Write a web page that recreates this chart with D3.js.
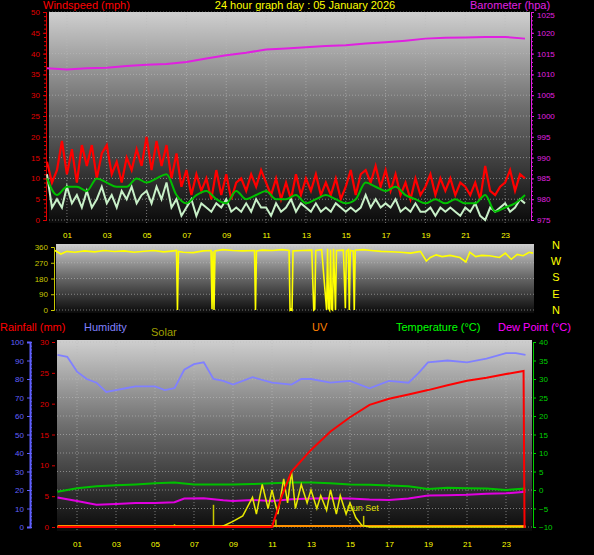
<!DOCTYPE html>
<html>
<head>
<meta charset="utf-8">
<script src="https://cdn.jsdelivr.net/npm/d3@7"></script>
<style>
body { margin: 0; background: #000; }
text { font-family: "Liberation Sans", Arial, sans-serif; }
</style>
</head>
<body>
<div id="chart"></div>
<script>
// wind (mph), 15-minute steps from 00:00 to 24:00
var gust = [14,9,12,19, 11,17,9,18, 13,18,10,16, 18,11,14,9, 15,12,17,13, 20,12,19,13, 18,10,16,8,
  12,6,11,7, 10,5,12,6, 11,5,9,10, 7,11,8,12, 9,6,10,5, 9,5,11,6, 10,7,11,6, 9,6,10,5,
  8,12,6,11, 12,9,13,8, 12,7,11,6, 9,5,10,6, 8,11,6,10, 7,10,6,9, 8,6,9,5, 13,7,6,8, 9,12,7,11, 10];
var speed = [11,3,5,3, 8,4,6,3, 7,3,5,8, 4,6,3,7, 5,8,4,6, 7,4,8,5, 9,3,5,1, 3,5,1,4, 3,2,4,3,
  5,2,3,2, 4,2,5,3, 3,1,4,2, 3,5,2,4, 3,2,4,2, 3,2,4,3, 2,3,2,3, 6,3,5,3, 4,3,5,2, 3,2,4,2,
  2,3,1,3, 2,3,2,1, 3,2,4,1, 0,3,2,3, 4,2,3,5, 4];
// average wind, 30-minute steps
var avgWind = [10,6, 8,8, 7,10, 9,8, 8,10, 9,10, 11,6, 4,6, 7,5, 4,7, 5,6, 7,5, 5,6, 4,5, 6,5, 4,5,
  9,8, 7,8, 6,5, 4,5, 4,5, 4,4, 6,2, 3,4, 6];
// barometer (hPa), hourly
var baro = [1011.5,1011.2,1011.5,1011.6,1012,1012.3,1012.5,1013,1013.8,1014.6,1015.2,1016,1016.2,
  1016.5,1016.8,1017,1017.4,1017.7,1018.1,1018.6,1018.8,1018.9,1019,1019,1018.6];
// wind direction [hour, degrees]
var windDir = [[0,340],[0.3,320],[0.6,335],[1,330],[1.5,338],[2,332],[2.5,340],[3,334],[3.5,338],[4,330],
  [4.5,336],[5,340],[5.5,332],[6,338],[6.15,340],[6.2,0],[6.25,335],[6.5,330],[7,328],[7.5,338],[7.9,340],
  [7.95,5],[8.0,335],[8.05,0],[8.1,338],[8.5,345],[9,340],[9.5,338],[10.1,340],[10.15,0],[10.2,338],
  [10.5,342],[11,340],[11.5,345],[11.85,340],[11.9,0],[11.95,5],[12.0,0],[12.05,338],[12.5,340],[13.0,342],
  [13.1,0],[13.15,5],[13.2,340],[13.5,345],[13.75,0],[13.8,350],[13.85,10],[13.9,0],[13.95,345],[14.0,5],
  [14.05,0],[14.1,350],[14.2,0],[14.25,340],[14.6,342],[14.7,10],[14.75,338],[14.85,345],[14.9,0],[14.95,340],
  [15.1,338],[15.15,0],[15.2,342],[15.6,345],[16,340],[16.5,335],[17,333],[17.5,330],[18,325],[18.5,335],
  [18.8,280],[19,300],[19.3,315],[19.6,305],[20,312],[20.5,300],[20.8,275],[21,330],[21.3,305],[21.6,312],
  [22,310],[22.5,300],[22.8,325],[23.1,290],[23.4,318],[23.7,310],[24,330],[24.2,325]];

// lower panel [hour, value]
var humidity = [[0,93],[0.5,92],[1,84],[1.5,80],[2,78],[2.5,73],[3,74],[3.5,75],[4,76],[5,76],[5.5,74],
  [6,75],[6.5,85],[7,88],[7.5,89],[8,80],[8.5,79],[9,77],[10,81],[11,78],[12,77],[12.5,80],[13,80],
  [14,78],[15,79],[16,75],[17,79],[18,78],[18.5,83],[19,89],[20,90],[21,89],[22,91],[23,94],[23.5,94],[24,93]];
var temperature = [[0,-0.5],[1,0.5],[2,1],[3,1.3],[4,1.5],[5,1.8],[6,2],[7,1.5],[8,1.5],[9,1.5],[10,1.6],
  [11,1.8],[12,2],[13,2],[14,1.8],[15,1.5],[16,1.4],[17,1.2],[18,1],[19,0.3],[20,0.6],[21,0.5],[22,0.4],[23,0],[24,0.4]];
var dewPoint = [[0,-2],[1,-3],[2,-4],[3,-3.8],[4,-3.5],[5,-3.5],[6,-3.3],[6.5,-2.3],[7.5,-2.2],[8.5,-2.8],
  [9,-3],[10,-2.7],[11,-3],[12,-2.5],[13,-2.3],[14,-2.2],[15,-2.3],[16,-2.6],[17,-2.7],[18,-2.3],[19,-1.5],
  [20,-1.4],[21,-1.3],[22,-1],[23,-0.9],[24,-0.5]];
var rainfall = [[0,0],[11,0],[11.5,5],[12,9],[13,12.5],[14,15.5],[15,17.8],[16,19.8],[17,20.8],[18,21.5],
  [19,22.2],[20,23],[21,23.7],[22,24.2],[23,24.8],[23.9,25.3],[23.95,0],[24,0]];
var solar = [[0,0],[8.4,0],[9,30],[9.5,60],[10,160],[10.2,70],[10.5,230],[10.8,100],[11,200],[11.3,70],
  [11.6,260],[11.8,130],[12,300],[12.2,100],[12.5,230],[12.8,130],[13,200],[13.3,100],[13.5,170],[13.8,90],
  [14,200],[14.3,70],[14.5,170],[14.8,70],[15,130],[15.3,50],[15.6,10],[16,0],[24,0]];
var solarSpikes = [[6,15],[8,120],[11.2,40],[15.7,60]];
var hourTicks = [1,3,5,7,9,11,13,15,17,19,21,23];

var W = 594, H = 555;
var svg = d3.select("#chart").append("svg").attr("width", W).attr("height", H)
  .style("background", "#000");

var defs = svg.append("defs");
var grad = defs.append("linearGradient").attr("id", "bg").attr("x1", 0).attr("y1", 0).attr("x2", 0).attr("y2", 1);
grad.append("stop").attr("offset", "0%").attr("stop-color", "#cfcfcf");
grad.append("stop").attr("offset", "45%").attr("stop-color", "#6e6e6e");
grad.append("stop").attr("offset", "100%").attr("stop-color", "#0a0a0a");

function panel(x0, y0, x1, y1) {
  svg.append("rect").attr("x", x0).attr("y", y0).attr("width", x1 - x0).attr("height", y1 - y0)
    .attr("fill", "url(#bg)");
}
function label(x, y, t, c, anchor, size) {
  svg.append("text").attr("x", x).attr("y", y).attr("fill", c).attr("font-size", size || 11)
    .attr("text-anchor", anchor || "start").text(t);
}
function hgrid(y, ticks, x0, x1) {
  ticks.forEach(function (t) {
    svg.append("line").attr("x1", x0).attr("x2", x1).attr("y1", y(t)).attr("y2", y(t))
      .attr("stroke", "#bbb").attr("stroke-dasharray", "1,2").attr("stroke-opacity", 0.6);
  });
}
function vgrid(x, y0, y1) {
  hourTicks.forEach(function (t) {
    svg.append("line").attr("x1", x(t)).attr("x2", x(t)).attr("y1", y0).attr("y2", y1)
      .attr("stroke", "#bbb").attr("stroke-dasharray", "1,2").attr("stroke-opacity", 0.6);
  });
}
function axisStyle(g, color) {
  g.selectAll("text").attr("fill", color).attr("font-size", 8).attr("font-family", "Liberation Sans, Arial");
  g.selectAll("line").attr("stroke", color);
  g.select(".domain").attr("stroke", color);
}

// ---------- top panel: wind + barometer ----------
var xTop = d3.scaleLinear().domain([0, 24.25]).range([47, 530]);
var yWind = d3.scaleLinear().domain([0, 50]).range([220, 12]);
var yBaro = d3.scaleLinear().domain([975, 1025]).range([220, 12]);
panel(49, 12, 530, 223);
hgrid(yWind, d3.range(0, 51, 5), 49, 530);
vgrid(xTop, 12, 223);

svg.append("g").attr("transform", "translate(46,0)")
  .call(d3.axisLeft(yWind).tickValues(d3.range(0, 51, 5)).tickSize(3))
  .call(axisStyle, "#e00000");
svg.append("g").attr("transform", "translate(46,0)")
  .call(d3.axisLeft(yWind).ticks(50).tickSize(2).tickFormat(""))
  .call(axisStyle, "#e00000");
svg.append("g").attr("transform", "translate(531,0)")
  .call(d3.axisRight(yBaro).tickValues(d3.range(975, 1026, 5)).tickSize(3).tickFormat(d3.format("d")))
  .call(axisStyle, "#e020e0")
  .call(function (g) { g.selectAll("text").filter(function (d) { return d === 1025; }).attr("dy", "0.7em"); });
svg.append("g").attr("transform", "translate(531,0)")
  .call(d3.axisRight(yBaro).ticks(50).tickSize(2).tickFormat(""))
  .call(axisStyle, "#e020e0");
svg.append("g").attr("transform", "translate(0,229)")
  .call(d3.axisBottom(xTop).tickValues(hourTicks).tickSize(0).tickFormat(d3.format("02d")))
  .call(function (g) { axisStyle(g, "#ffff00"); g.select(".domain").remove(); });

var q = function (d, i) { return xTop(i / 4); };
svg.append("path").datum(gust).attr("fill", "none").attr("stroke", "#ff0000").attr("stroke-width", 2.2)
  .attr("d", d3.line().x(q).y(function (d) { return yWind(d); }));
svg.append("path").datum(speed).attr("fill", "none").attr("stroke", "#c8f0c8").attr("stroke-width", 2)
  .attr("d", d3.line().x(q).y(function (d) { return yWind(d); }));
svg.append("path").datum(avgWind).attr("fill", "none").attr("stroke", "#00c000").attr("stroke-width", 2)
  .attr("d", d3.line().curve(d3.curveMonotoneX).x(function (d, i) { return xTop(i / 2); }).y(function (d) { return yWind(d); }));
svg.append("path").datum(baro).attr("fill", "none").attr("stroke", "#e020e0").attr("stroke-width", 2)
  .attr("d", d3.line().x(function (d, i) { return xTop(i); }).y(function (d) { return yBaro(d); }));

label(43, 9, "Windspeed (mph)", "#ff0000");
label(305, 9, "24 hour graph day : 05 January 2026", "#ffff00", "middle");
label(470, 9, "Barometer (hpa)", "#e020e0");

// ---------- middle panel: wind direction ----------
var xDir = d3.scaleLinear().domain([0, 24.25]).range([55, 534]);
var yDir = d3.scaleLinear().domain([0, 360]).range([310, 247]);
panel(56, 244, 534, 313);
hgrid(yDir, [0, 90, 180, 270, 360], 56, 534);
svg.append("g").attr("transform", "translate(54,0)")
  .call(d3.axisLeft(yDir).tickValues([0, 90, 180, 270, 360]).tickSize(3))
  .call(axisStyle, "#c8c800");
svg.append("path").datum(windDir).attr("fill", "none").attr("stroke", "#ffff00").attr("stroke-width", 1.6)
  .attr("d", d3.line().x(function (d) { return xDir(d[0]); }).y(function (d) { return yDir(d[1]); }));
["N", "W", "S", "E", "N"].forEach(function (c, i) {
  label(556, 249 + i * 16.2, c, "#ffff00", "middle", 11);
});

// ---------- legend row ----------
label(0, 331, "Rainfall (mm)", "#ff0000");
label(84, 331, "Humidity", "#8080ff");
label(151, 336, "Solar", "#a0a000");
label(312, 331, "UV", "#ff8000");
label(396, 331, "Temperature (\u00b0C)", "#00ff00");
label(498, 331, "Dew Point (\u00b0C)", "#ff00ff");

// ---------- bottom panel ----------
var xBot = d3.scaleLinear().domain([0, 24]).range([57.5, 525.5]);
var yHum = d3.scaleLinear().domain([0, 100]).range([527, 342]);
var yRain = d3.scaleLinear().domain([0, 30]).range([527, 342]);
var yTemp = d3.scaleLinear().domain([-10, 40]).range([527, 342]);
var ySolar = d3.scaleLinear().domain([0, 1000]).range([527, 342]);
panel(57, 340, 532, 531);
hgrid(yTemp, d3.range(-10, 41, 5), 57, 532);
vgrid(xBot, 340, 531);

svg.append("g").attr("transform", "translate(30,0)")
  .call(d3.axisLeft(yHum).tickValues(d3.range(0, 101, 10)).tickSize(3))
  .call(axisStyle, "#6060ff")
  .call(function (g) { g.select(".domain").attr("stroke-width", 2); });
svg.append("g").attr("transform", "translate(30,0)")
  .call(d3.axisRight(yHum).ticks(50).tickSize(2).tickFormat(""))
  .call(axisStyle, "#6060ff");
svg.append("g").attr("transform", "translate(55,0)")
  .call(d3.axisLeft(yRain).tickValues(d3.range(0, 31, 5)).tickSize(3))
  .call(axisStyle, "#e00000")
  .call(function (g) { g.select(".domain").remove(); });
svg.append("g").attr("transform", "translate(533,0)")
  .call(d3.axisRight(yTemp).tickValues(d3.range(-10, 41, 5)).tickSize(3))
  .call(axisStyle, "#00d000");
svg.append("g").attr("transform", "translate(0,538)")
  .call(d3.axisBottom(xBot).tickValues(hourTicks).tickSize(0).tickFormat(d3.format("02d")))
  .call(function (g) { axisStyle(g, "#ffff00"); g.select(".domain").remove(); });

var pl = function (scale) {
  return d3.line().x(function (d) { return xBot(d[0]); }).y(function (d) { return scale(d[1]); });
};
svg.append("path").datum(humidity).attr("fill", "none").attr("stroke", "#8080ff").attr("stroke-width", 1.8).attr("d", pl(yHum));
svg.append("path").datum(temperature).attr("fill", "none").attr("stroke", "#00c000").attr("stroke-width", 2).attr("d", pl(yTemp));
svg.append("path").datum(dewPoint).attr("fill", "none").attr("stroke", "#e000e0").attr("stroke-width", 2).attr("d", pl(yTemp));
svg.append("line").attr("x1", xBot(0)).attr("x2", xBot(24)).attr("y1", yRain(0) - 1).attr("y2", yRain(0) - 1)
  .attr("stroke", "#ff9000").attr("stroke-width", 2);
svg.append("path").datum(solar).attr("fill", "none").attr("stroke", "#e8e800").attr("stroke-width", 1.5).attr("d", pl(ySolar));
solarSpikes.forEach(function (s) {
  svg.append("line").attr("x1", xBot(s[0])).attr("x2", xBot(s[0])).attr("y1", ySolar(0)).attr("y2", ySolar(s[1]))
    .attr("stroke", "#c8c800").attr("stroke-width", 1.5);
});
svg.append("path").datum(rainfall).attr("fill", "none").attr("stroke", "#ff0000").attr("stroke-width", 2).attr("d", pl(yRain));
label(xBot(15.7) - 1, 511, "Sun Set", "#e0e000", "middle", 9);
</script>
</body>
</html>
